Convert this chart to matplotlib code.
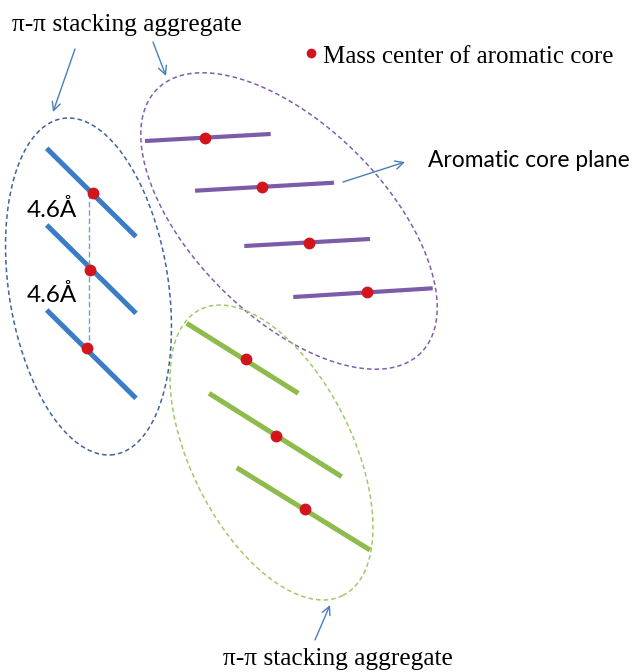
import numpy as np
import matplotlib
matplotlib.use("Agg")
import matplotlib.pyplot as plt
from matplotlib.patches import FancyArrowPatch

# ---- data (pixel-space schematic) ----
blue_segments = [((46.7, 148.3), (136.0, 236.7)),
                 ((46.7, 225.0), (136.0, 313.3)),
                 ((46.7, 310.0), (136.0, 398.3))]
blue_centers = [(92.7, 193.3), (90.0, 270.0), (86.5, 348.3)]

purple_segments = [((145.0, 141.0), (270.7, 134.0)),
                   ((195.0, 190.7), (334.0, 182.7)),
                   ((244.3, 246.0), (370.0, 239.0)),
                   ((293.3, 297.0), (432.7, 288.3))]
purple_centers = [(205.0, 137.7), (262.3, 186.7), (309.0, 242.7), (366.7, 292.3)]

green_segments = [((186.7, 323.3), (298.3, 393.3)),
                  ((209.0, 393.3), (341.7, 476.7)),
                  ((236.7, 467.7), (370.0, 550.0))]
green_centers = [(245.7, 359.0), (275.7, 435.7), (305.0, 509.0)]

# ellipses: cx, cy, semi-major, semi-minor, angle (deg, image coords)
ellipse_blue = (88.5, 286.5, 170.0, 79.8, 81.3)
ellipse_purple = (289.0, 221.0, 186.5, 95.7, 45.0)
ellipse_green = (271.5, 452.5, 159.8, 80.7, 63.5)

arrows = [((75, 49), (53, 112)),
          ((153, 42), (166, 76)),
          ((343, 182), (405, 162)),
          ((315, 640), (330, 605))]

spacing_line = ((89.0, 193.3), (89.0, 348.3))
spacing_labels = ["4.6Å", "4.6Å"]
spacing_label_pos = [(27, 216.7), (27, 301.7)]

legend_dot = (311, 53)
legend_text = "Mass center of aromatic core"
plane_text = "Aromatic core plane"
agg_text = "π-π stacking aggregate"

# ---- colors ----
c_blue = "#3b7cc6"
c_purple = "#7a5ca8"
c_green = "#8dbb4c"
c_red = "#d2141c"
c_arrow = "#4a7ebb"
e_blue = "#40649a"
e_purple = "#8060aa"
e_green = "#9fca6a"

fig = plt.figure(figsize=(6.33, 6.72), dpi=100)
ax = fig.add_axes([0, 0, 1, 1])
ax.set_xlim(0, 633)
ax.set_ylim(672, 0)
ax.axis("off")


def ellipse_pts(cx, cy, a, b, ang):
    t = np.linspace(0, 2 * np.pi, 400)
    p = np.radians(ang)
    x = cx + a * np.cos(t) * np.cos(p) - b * np.sin(t) * np.sin(p)
    y = cy + a * np.cos(t) * np.sin(p) + b * np.sin(t) * np.cos(p)
    return x, y


for (e, col) in [(ellipse_blue, e_blue), (ellipse_purple, e_purple), (ellipse_green, e_green)]:
    x, y = ellipse_pts(*e)
    ax.plot(x, y, color=col, lw=1.1, linestyle=(0, (3, 2)))

for segs, col, lw in [(blue_segments, c_blue, 3.6), (purple_segments, c_purple, 3.0), (green_segments, c_green, 3.6)]:
    for (p0, p1) in segs:
        ax.plot([p0[0], p1[0]], [p0[1], p1[1]], color=col, lw=lw, solid_capstyle="butt")

# spacing dashed line
ax.plot([spacing_line[0][0], spacing_line[1][0]], [spacing_line[0][1], spacing_line[1][1]],
        color="#6f9fd8", lw=1.0, linestyle=(0, (4, 2)))

for cs in [blue_centers, purple_centers, green_centers]:
    xs = [c[0] for c in cs]
    ys = [c[1] for c in cs]
    ax.plot(xs, ys, "o", color=c_red, ms=8.5, mec="none")

for (p0, p1) in arrows:
    ax.add_patch(FancyArrowPatch(p0, p1, arrowstyle="->,head_length=6,head_width=3",
                                 color=c_arrow, lw=1.0, shrinkA=0, shrinkB=0))

ax.plot([legend_dot[0]], [legend_dot[1]], "o", color=c_red, ms=7, mec="none")

serif = ["Liberation Serif", "DejaVu Serif"]
sans = ["Lato", "DejaVu Sans"]
ax.text(323, 63, legend_text, family=serif, fontsize=18, va="baseline", ha="left")
ax.text(12, 31, agg_text, family=serif, fontsize=18.3, va="baseline", ha="left")
ax.text(223, 665, agg_text, family=serif, fontsize=18.3, va="baseline", ha="left")
ax.text(428, 167, plane_text, family=sans, fontsize=16.4, va="baseline", ha="left")
for lab, (x, y) in zip(spacing_labels, spacing_label_pos):
    ax.text(x, y, lab, family=sans, fontsize=17.5, va="baseline", ha="left")

fig.savefig("out.png", dpi=100)
